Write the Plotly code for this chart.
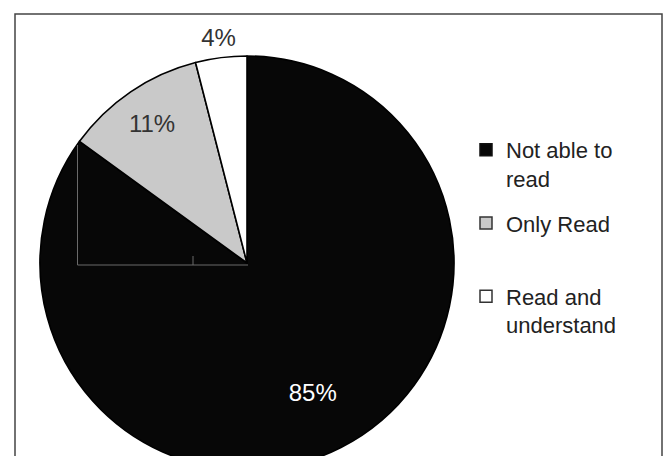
import plotly.graph_objects as go

labels = ["Not able to read", "Only Read", "Read and understand"]
legend_labels = ["Not able to<br>read", "Only Read<br> ", "Read and<br>understand"]
values = [85, 11, 4]
slice_colors = ["#070707", "#c9c9c9", "#ffffff"]
legend_edge = ["#111111", "#333333", "#333333"]
text_colors = ["#ffffff", "#333333", "#333333"]

W, H = 665, 520
FONT = "Liberation Sans, Arial, sans-serif"
PIE_FONT = 24
LEG_FONT = 22


def px_x(p):
    return p / W


def px_y(p):
    return 1 - p / H


cx, cy, r = 247, 263, 207

fig = go.Figure()

# legend entries (one group per category so the gaps can differ)
for i, lab in enumerate(legend_labels):
    fig.add_trace(go.Pie(
        labels=[lab], values=[values[i]], sort=False,
        marker=dict(colors=[slice_colors[i]], line=dict(color=legend_edge[i], width=1.5)),
        textinfo="none", hoverinfo="skip",
        legendgroup=f"g{i}", showlegend=True,
        domain=dict(x=[px_x(cx - 1), px_x(cx + 1)], y=[px_y(cy + 1), px_y(cy - 1)]),
    ))

# the visible pie
fig.add_trace(go.Pie(
    labels=labels, values=values, sort=False,
    direction="clockwise", rotation=0,
    marker=dict(colors=slice_colors, line=dict(color="#000000", width=1.6)),
    textinfo="none", showlegend=False,
    domain=dict(x=[px_x(cx - r), px_x(cx + r)], y=[px_y(cy + r), px_y(cy - r)]),
    hoverinfo="label+percent",
))

# percentage labels, placed by the pie layout itself
label_setup = [
    (0, 0.40, r),
    (1, 0.632, r),
    (2, 0.838, 247),
]
for k, hole, rad in label_setup:
    txt = [f"{v}%" if j == k else "" for j, v in enumerate(values)]
    fig.add_trace(go.Pie(
        labels=labels, values=values, sort=False,
        direction="clockwise", rotation=0, hole=hole,
        marker=dict(colors=["rgba(0,0,0,0)"] * 3, line=dict(width=0)),
        text=txt, textinfo="text", textposition="inside",
        insidetextorientation="horizontal",
        textfont=dict(family=FONT, size=PIE_FONT, color=text_colors),
        showlegend=False, hoverinfo="skip",
        domain=dict(x=[px_x(cx - rad), px_x(cx + rad)], y=[px_y(cy + rad), px_y(cy - rad)]),
    ))

shapes = [
    dict(type="rect", xref="paper", yref="paper",
         x0=px_x(15), x1=px_x(662), y0=px_y(515), y1=px_y(14),
         line=dict(color="#444444", width=1.5), fillcolor="rgba(0,0,0,0)", layer="below"),
    dict(type="line", xref="paper", yref="paper",
         x0=px_x(77.5), x1=px_x(77.5), y0=px_y(145), y1=px_y(265),
         line=dict(color="#6a6a6a", width=1)),
    dict(type="line", xref="paper", yref="paper",
         x0=px_x(77.5), x1=px_x(248), y0=px_y(265), y1=px_y(265),
         line=dict(color="#6a6a6a", width=1)),
    dict(type="line", xref="paper", yref="paper",
         x0=px_x(193), x1=px_x(193), y0=px_y(256), y1=px_y(265),
         line=dict(color="#6a6a6a", width=1)),
]

fig.update_layout(
    width=W, height=H,
    margin=dict(l=0, r=0, t=0, b=0),
    paper_bgcolor="#ffffff",
    plot_bgcolor="#ffffff",
    font=dict(family=FONT, size=LEG_FONT, color="#222222"),
    uniformtext=dict(minsize=PIE_FONT, mode="show"),
    legend=dict(
        x=px_x(466), y=px_y(129), xanchor="left", yanchor="top",
        bgcolor="rgba(0,0,0,0)", font=dict(family=FONT, size=LEG_FONT, color="#222222"),
        valign="top", itemwidth=30, traceorder="grouped", tracegroupgap=13,
    ),
    shapes=shapes,
)

fig.write_html(
    "out.html",
    post_script="document.documentElement.style.overflow='hidden';document.body.style.overflow='hidden';document.body.style.margin='0';",
)
